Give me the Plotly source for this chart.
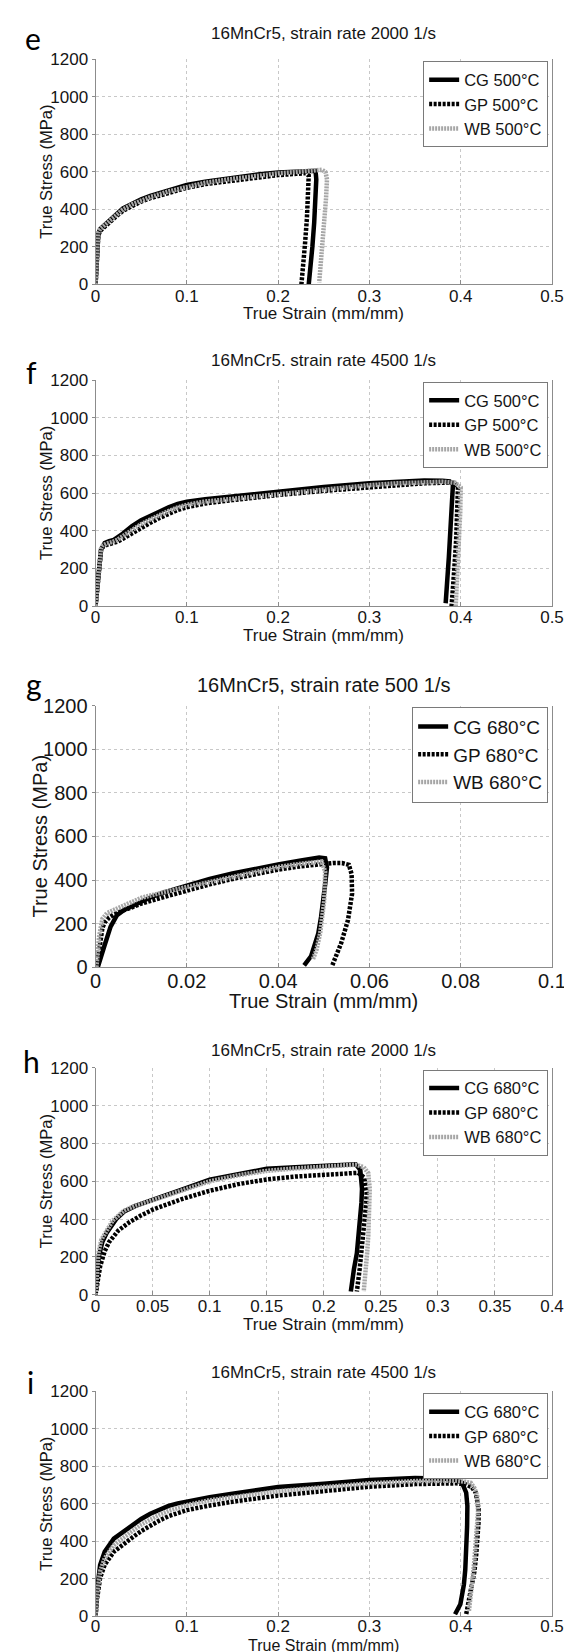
import plotly.graph_objects as go

W, H = 572, 1652

# ---------------- data ----------------
titles = ["16MnCr5, strain rate 2000 1/s", "16MnCr5. strain rate 4500 1/s",
          "16MnCr5, strain rate 500 1/s", "16MnCr5, strain rate 2000 1/s",
          "16MnCr5, strain rate 4500 1/s"]
letters = ["e", "f", "g", "h", "i"]
temps = ["500°C", "500°C", "680°C", "680°C", "680°C"]
series_names = ["CG", "GP", "WB"]

x_max = [0.5, 0.5, 0.1, 0.4, 0.5]
x_dtick = [0.1, 0.1, 0.02, 0.05, 0.1]
y_ticks = [0, 200, 400, 600, 800, 1000, 1200]

# panel e
cg_e_x = [0, 0.001, 0.002, 0.003, 0.005, 0.008, 0.012, 0.02, 0.03, 0.04, 0.05, 0.06, 0.08, 0.1, 0.12, 0.15, 0.18, 0.2, 0.22, 0.235, 0.241, 0.2418, 0.241, 0.2395, 0.2375, 0.2355, 0.2335]
cg_e_y = [0, 110, 210, 270, 295, 310, 325, 362, 406, 432, 454, 472, 502, 530, 548, 570, 588, 597, 603, 608, 606, 560, 450, 330, 200, 90, 0]
gp_e_x = [0, 0.001, 0.002, 0.003, 0.005, 0.008, 0.012, 0.02, 0.03, 0.04, 0.05, 0.06, 0.08, 0.1, 0.12, 0.15, 0.18, 0.2, 0.22, 0.23, 0.2335, 0.233, 0.2315, 0.2295, 0.2275, 0.2255]
gp_e_y = [0, 100, 200, 260, 285, 300, 315, 352, 393, 420, 442, 460, 490, 515, 535, 555, 573, 583, 590, 593, 580, 480, 350, 220, 100, 0]
wb_e_x = [0, 0.001, 0.002, 0.003, 0.005, 0.008, 0.012, 0.02, 0.03, 0.04, 0.05, 0.06, 0.08, 0.1, 0.12, 0.15, 0.18, 0.2, 0.22, 0.24, 0.248, 0.252, 0.2535, 0.2525, 0.2505, 0.2485, 0.2465, 0.245]
wb_e_y = [0, 120, 220, 275, 295, 308, 322, 358, 400, 427, 448, 466, 496, 522, 542, 563, 582, 592, 600, 608, 612, 598, 560, 460, 340, 210, 100, 10]

# panel f
cg_f_x = [0, 0.002, 0.004, 0.006, 0.008, 0.01, 0.015, 0.02, 0.03, 0.04, 0.05, 0.06, 0.07, 0.08, 0.09, 0.1, 0.12, 0.15, 0.18, 0.2, 0.25, 0.3, 0.33, 0.36, 0.38, 0.388, 0.3915, 0.3905, 0.389, 0.387, 0.385, 0.3835]
cg_f_y = [0, 120, 250, 300, 315, 335, 345, 352, 385, 425, 456, 480, 504, 524, 542, 554, 567, 582, 598, 610, 632, 652, 662, 667, 666, 662, 645, 530, 400, 260, 120, 15]
gp_f_x = [0, 0.002, 0.004, 0.006, 0.008, 0.012, 0.018, 0.024, 0.03, 0.04, 0.05, 0.06, 0.07, 0.08, 0.09, 0.1, 0.12, 0.15, 0.18, 0.2, 0.25, 0.3, 0.33, 0.36, 0.38, 0.392, 0.397, 0.3965, 0.395, 0.393, 0.3915, 0.390]
gp_f_y = [0, 110, 240, 295, 315, 325, 333, 342, 358, 388, 415, 442, 468, 490, 510, 525, 545, 563, 580, 590, 612, 632, 645, 652, 655, 655, 635, 500, 350, 200, 80, 0]
wb_f_x = [0, 0.002, 0.004, 0.006, 0.008, 0.012, 0.018, 0.024, 0.03, 0.04, 0.05, 0.06, 0.07, 0.08, 0.09, 0.1, 0.12, 0.15, 0.18, 0.2, 0.25, 0.3, 0.33, 0.36, 0.38, 0.394, 0.4, 0.3995, 0.398, 0.3965, 0.395, 0.3945]
wb_f_y = [0, 115, 250, 305, 322, 332, 340, 352, 372, 405, 435, 460, 485, 505, 524, 538, 555, 570, 586, 597, 620, 642, 652, 660, 660, 655, 630, 500, 350, 200, 70, 0]

# panel g
cg_g_x = [0.0005, 0.001, 0.0019, 0.0033, 0.0047, 0.0061, 0.0089, 0.012, 0.015, 0.02, 0.025, 0.03, 0.035, 0.04, 0.045, 0.049, 0.0503, 0.0507, 0.0503, 0.0499, 0.0494, 0.0488, 0.0472, 0.0457]
cg_g_y = [0, 40, 95, 186, 239, 261, 291, 320, 343, 375, 405, 430, 452, 472, 490, 503, 500, 457, 380, 306, 230, 155, 50, 8]
gp_g_x = [0.0003, 0.0006, 0.001, 0.0015, 0.002, 0.003, 0.004, 0.005, 0.006, 0.008, 0.01, 0.015, 0.02, 0.025, 0.03, 0.035, 0.04, 0.045, 0.049, 0.052, 0.054, 0.0555, 0.0561, 0.0562, 0.0553, 0.0538, 0.0518]
gp_g_y = [0, 50, 120, 180, 205, 228, 242, 252, 260, 275, 292, 322, 352, 380, 405, 428, 448, 463, 472, 478, 478, 470, 427, 337, 216, 110, 5]
wb_g_x = [0.0002, 0.0005, 0.0008, 0.0015, 0.0025, 0.0035, 0.0055, 0.008, 0.01, 0.015, 0.02, 0.025, 0.03, 0.035, 0.04, 0.045, 0.048, 0.0495, 0.0503, 0.0503, 0.0501, 0.0492, 0.0484, 0.0476]
wb_g_y = [0, 80, 143, 222, 248, 258, 278, 300, 318, 345, 368, 393, 418, 440, 460, 475, 482, 485, 440, 380, 306, 155, 80, 35]

# panel h
cg_h_x = [0, 0.001, 0.0028, 0.006, 0.01, 0.018, 0.025, 0.035, 0.05, 0.075, 0.1, 0.125, 0.15, 0.175, 0.2, 0.215, 0.228, 0.232, 0.2335, 0.233, 0.232, 0.2305, 0.229, 0.2265, 0.2237]
cg_h_y = [0, 80, 200, 280, 330, 400, 440, 470, 504, 555, 609, 640, 666, 674, 682, 686, 690, 661, 560, 487, 400, 313, 220, 139, 17]
gp_h_x = [0, 0.0015, 0.004, 0.008, 0.012, 0.02, 0.03, 0.04, 0.05, 0.075, 0.1, 0.125, 0.15, 0.175, 0.2, 0.215, 0.23, 0.2355, 0.2375, 0.2372, 0.236, 0.2348, 0.2335, 0.2315, 0.229]
gp_h_y = [0, 60, 150, 230, 280, 340, 385, 420, 450, 505, 550, 585, 610, 625, 635, 642, 645, 620, 540, 487, 400, 313, 220, 139, 17]
wb_h_x = [0, 0.001, 0.0025, 0.005, 0.01, 0.015, 0.025, 0.035, 0.05, 0.075, 0.1, 0.125, 0.15, 0.175, 0.2, 0.215, 0.228, 0.235, 0.239, 0.2403, 0.2402, 0.2397, 0.239, 0.238, 0.2365, 0.235]
wb_h_y = [0, 100, 220, 290, 345, 392, 445, 472, 500, 552, 600, 632, 655, 668, 677, 682, 688, 675, 643, 560, 487, 400, 313, 220, 139, 17]

# panel i
cg_i_x = [0, 0.0015, 0.005, 0.01, 0.02, 0.03, 0.04, 0.05, 0.06, 0.07, 0.08, 0.09, 0.1, 0.125, 0.15, 0.2, 0.25, 0.3, 0.35, 0.37, 0.385, 0.395, 0.4015, 0.406, 0.4073, 0.407, 0.4065, 0.405, 0.4035, 0.3996, 0.3938]
cg_i_y = [0, 130, 275, 345, 415, 452, 488, 520, 548, 572, 590, 603, 614, 636, 655, 690, 708, 728, 738, 738, 734, 728, 713, 660, 590, 480, 345, 250, 170, 65, 12]
gp_i_x = [0, 0.0015, 0.005, 0.01, 0.02, 0.03, 0.04, 0.05, 0.06, 0.07, 0.08, 0.09, 0.1, 0.125, 0.15, 0.2, 0.25, 0.3, 0.35, 0.38, 0.395, 0.405, 0.412, 0.4165, 0.4196, 0.4195, 0.419, 0.417, 0.415, 0.412, 0.41, 0.406]
gp_i_y = [0, 90, 205, 275, 345, 385, 420, 455, 485, 512, 535, 553, 567, 592, 612, 645, 670, 692, 706, 710, 710, 705, 690, 660, 573, 500, 433, 330, 240, 160, 100, 12]
wb_i_x = [0, 0.0015, 0.005, 0.01, 0.02, 0.03, 0.04, 0.05, 0.06, 0.07, 0.08, 0.09, 0.1, 0.125, 0.15, 0.2, 0.25, 0.3, 0.35, 0.38, 0.395, 0.405, 0.411, 0.415, 0.418, 0.419, 0.418, 0.417, 0.415, 0.413, 0.411, 0.409]
wb_i_y = [0, 110, 240, 310, 380, 420, 455, 490, 518, 543, 563, 580, 594, 620, 638, 668, 690, 710, 722, 726, 724, 718, 713, 685, 643, 560, 480, 400, 300, 200, 110, 30]

panels_data = [
    [(cg_e_x, cg_e_y), (gp_e_x, gp_e_y), (wb_e_x, wb_e_y)],
    [(cg_f_x, cg_f_y), (gp_f_x, gp_f_y), (wb_f_x, wb_f_y)],
    [(cg_g_x, cg_g_y), (gp_g_x, gp_g_y), (wb_g_x, wb_g_y)],
    [(cg_h_x, cg_h_y), (gp_h_x, gp_h_y), (wb_h_x, wb_h_y)],
    [(cg_i_x, cg_i_y), (gp_i_x, gp_i_y), (wb_i_x, wb_i_y)],
]

# ---------------- layout geometry (pixels) ----------------
PX_L, PX_R = 84.5, 557.5
plot_tops = [41, 366, 696, 1063, 1391]
plot_bots = [269, 595, 961, 1293, 1619]
title_y = [15, 346, 675, 1045, 1372]
xlabel_y = [298, 625, 995, 1323, 1648]
tick_standoff = [-4, -4, -4, -4, -6]
letter_y = [19.5, 358, 674, 1056, 1381]
letter_x = [20, 18, 21, 18, 17]
ytitle_x = [33, 33, 27, 33, 33]
fs_main = [17, 17, 20, 17, 17]
fs_xtitle = [17, 17, 20, 17, 16]
fs_ytitle = [16.5, 16.5, 20, 16.5, 16.5]
fs_leg = [16.5, 16.5, 19, 16.5, 16.5]
leg_top = [43, 368, 697, 1065, 1393]

FONT = "Liberation Sans, Arial, sans-serif"
TXT = "#151515"
styles = [
    dict(color="#000000", width=4.5, dash="solid"),
    dict(color="#000000", width=4.5, dash="3px,1.5px"),
    dict(color="#a6a6a6", width=4.5, dash="2px,1px"),
]

def fx(px):
    return px / W

def fy(py):
    return 1 - py / H

fig = go.Figure()
annotations = []
layout = dict(width=W, height=H, margin=dict(l=0, r=0, t=0, b=0),
              paper_bgcolor="white", plot_bgcolor="white", showlegend=True)

for p in range(5):
    sfx = "" if p == 0 else str(p + 1)
    xa, ya = "x" + sfx, "y" + sfx
    leg = "legend" + sfx
    for s in range(3):
        xs, ys = panels_data[p][s]
        fig.add_trace(go.Scatter(
            x=xs, y=ys, mode="lines", name=f"{series_names[s]} {temps[p]}",
            line=styles[s], xaxis=xa, yaxis=ya, legend=leg,
            hoverinfo="skip"))
    fsz = fs_main[p]
    layout["xaxis" + sfx] = dict(
        domain=[fx(PX_L), fx(PX_R)], anchor=ya, range=[0, x_max[p]],
        dtick=x_dtick[p], tick0=0, showgrid=True, gridcolor="#c8c8c8",
        griddash="dot", gridwidth=1, zeroline=False, showline=True,
        linecolor="#8c8c8c", linewidth=1, mirror=False, ticks="inside",
        ticklen=4, tickcolor="#8c8c8c", ticklabelstandoff=tick_standoff[p],
        tickfont=dict(family=FONT, size=fsz, color=TXT), fixedrange=True)
    layout["yaxis" + sfx] = dict(
        domain=[fy(plot_bots[p]), fy(plot_tops[p])], anchor=xa,
        range=[0, 1200], tickvals=y_ticks, showgrid=True, gridcolor="#c8c8c8",
        griddash="dot", gridwidth=1, zeroline=False, showline=True,
        linecolor="#8c8c8c", linewidth=1, mirror=True, ticks="outside",
        ticklen=3, tickcolor="#8c8c8c",
        tickfont=dict(family=FONT, size=fsz, color=TXT), fixedrange=True)
    layout[leg] = dict(
        x=fx(PX_R - 4), xanchor="right", y=fy(leg_top[p]), yanchor="top",
        bgcolor="white", bordercolor="#7a7a7a", borderwidth=1,
        font=dict(family=FONT, size=fs_leg[p], color=TXT), itemwidth=30,
        tracegroupgap=0)
    cx = (PX_L + PX_R) / 2
    annotations.append(dict(text=titles[p], x=fx(cx), y=fy(title_y[p]),
                            xref="paper", yref="paper", showarrow=False,
                            xanchor="center", yanchor="middle",
                            font=dict(family=FONT, size=fsz, color=TXT)))
    annotations.append(dict(text="True Strain (mm/mm)", x=fx(cx), y=fy(xlabel_y[p]),
                            xref="paper", yref="paper", showarrow=False,
                            xanchor="center", yanchor="middle",
                            font=dict(family=FONT, size=fs_xtitle[p], color=TXT)))
    annotations.append(dict(text="True Stress (MPa)", x=fx(ytitle_x[p]),
                            y=fy((plot_tops[p] + plot_bots[p]) / 2),
                            xref="paper", yref="paper", showarrow=False,
                            textangle=-90, xanchor="center", yanchor="middle",
                            font=dict(family=FONT, size=fs_ytitle[p], color=TXT)))
    annotations.append(dict(text=letters[p], x=fx(letter_x[p]), y=fy(letter_y[p]),
                            xref="paper", yref="paper", showarrow=False,
                            xanchor="center", yanchor="middle",
                            font=dict(family="Lato, sans-serif", size=30, color="#000")))

layout["annotations"] = annotations
fig.update_layout(**layout)
fig.write_html("out.html")
